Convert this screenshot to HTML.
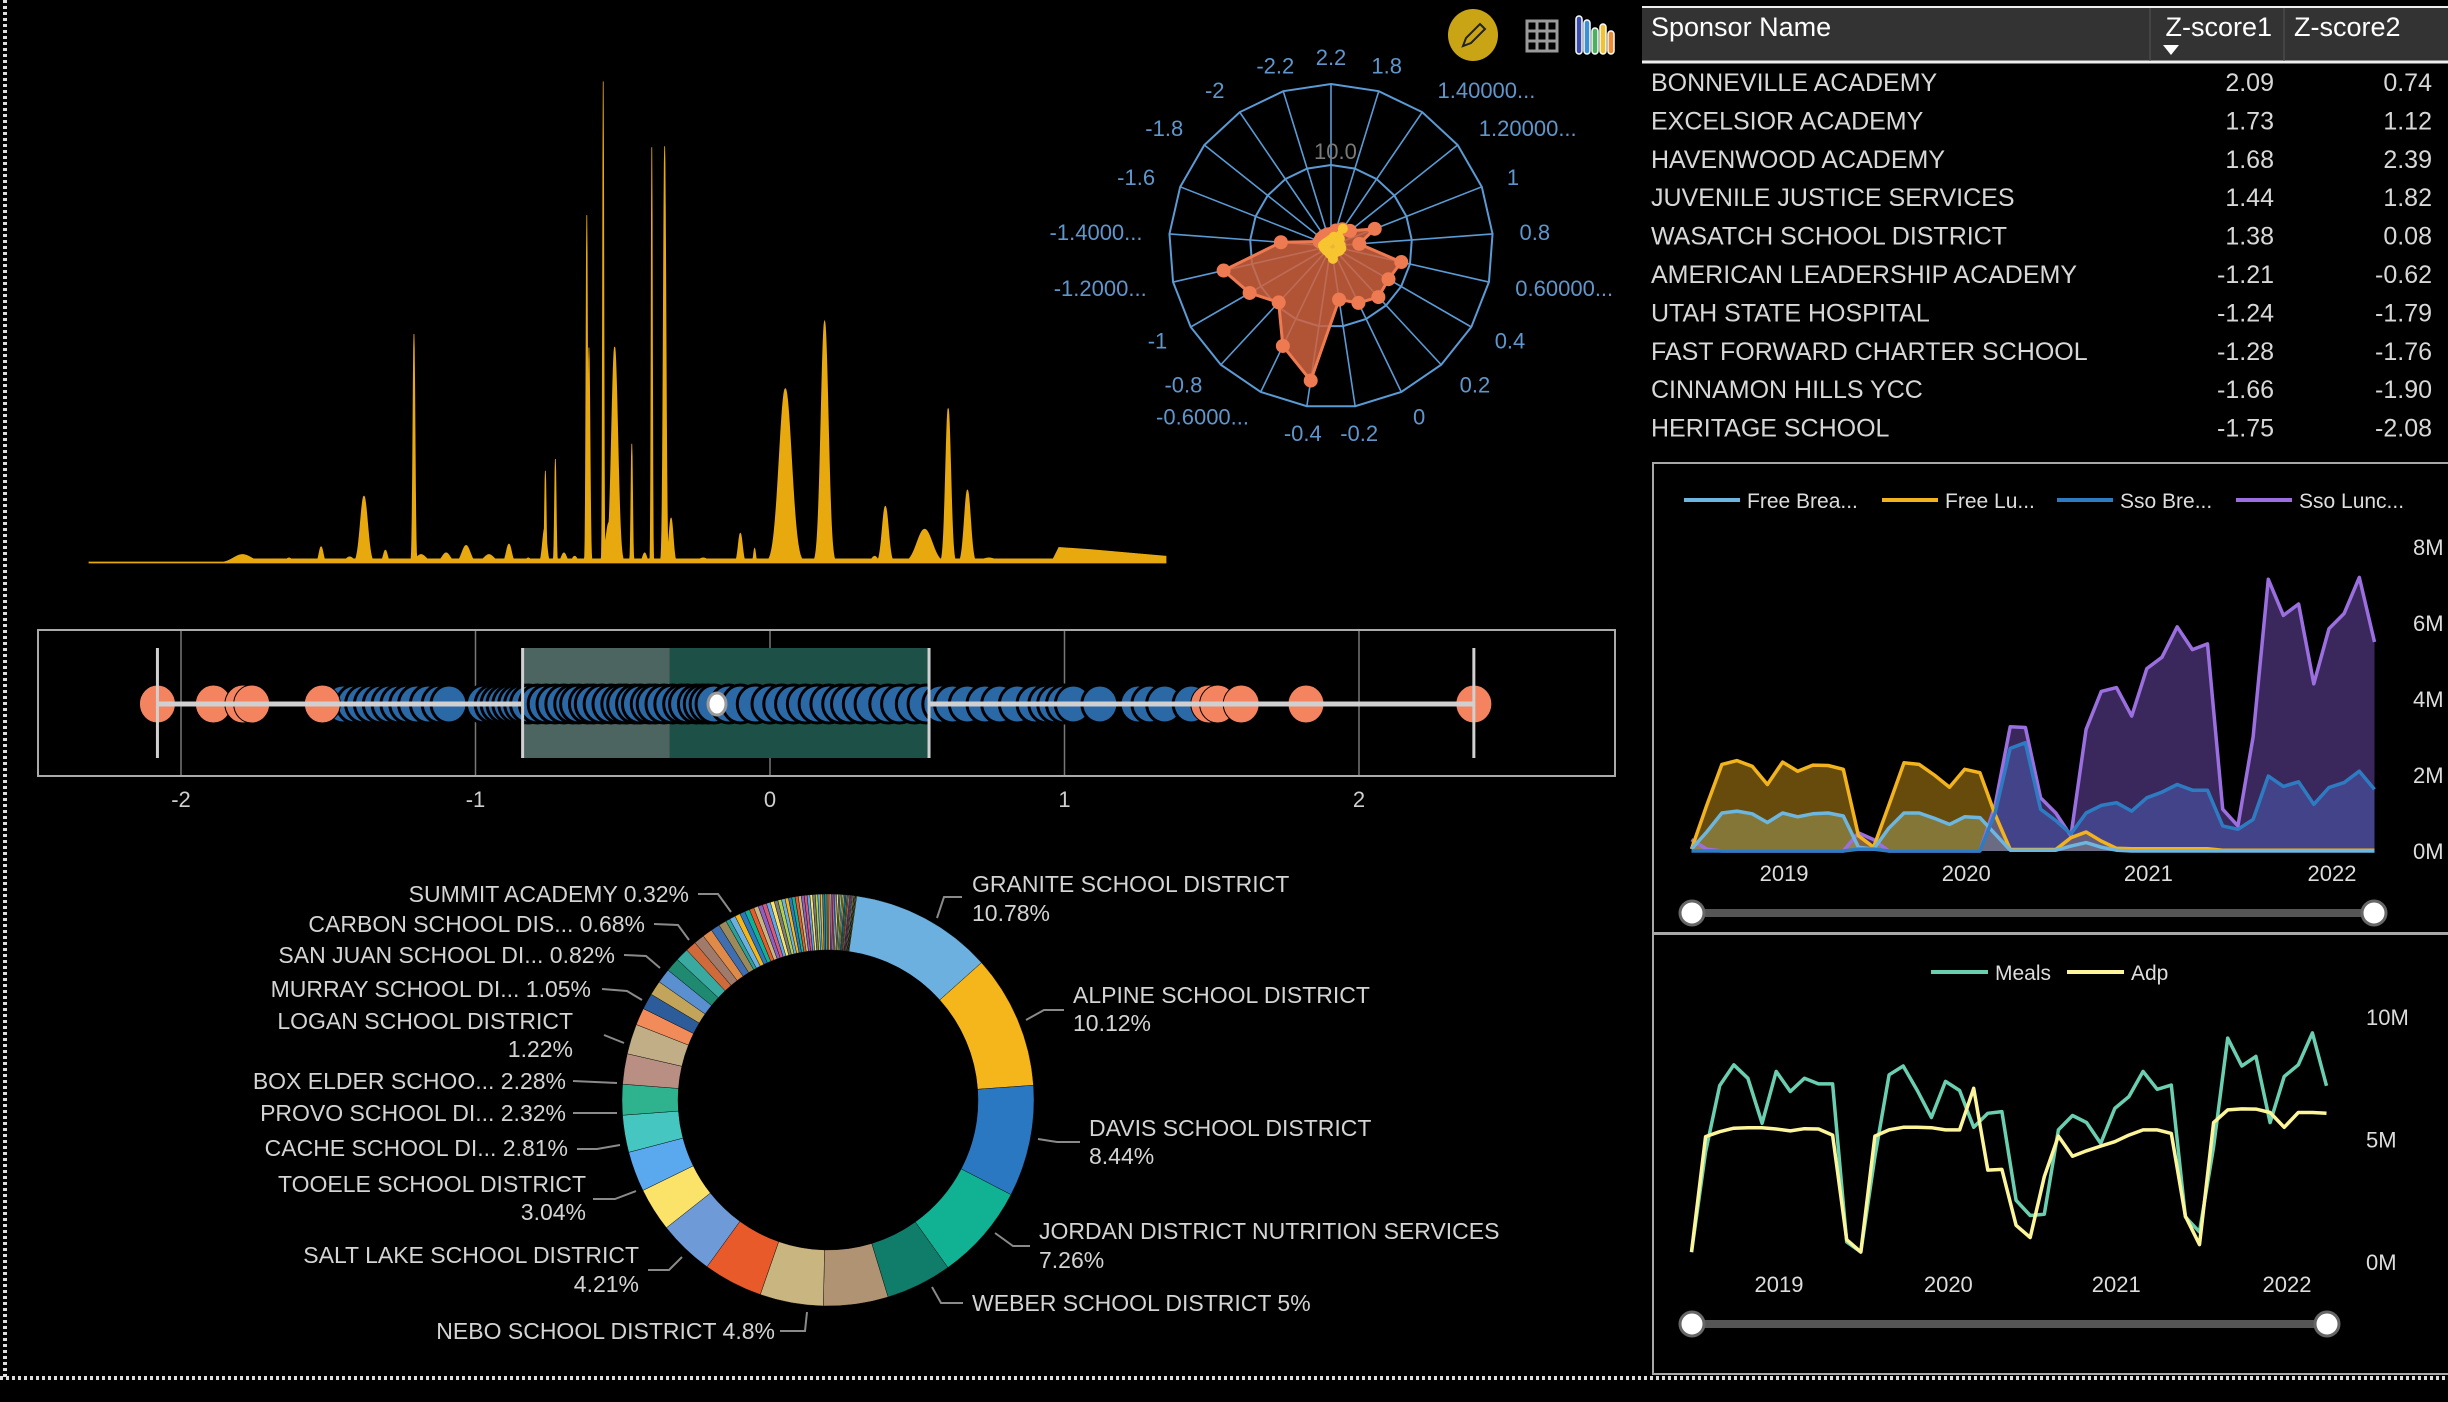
<!DOCTYPE html>
<html><head><meta charset="utf-8">
<style>
body{margin:0;background:#000;width:2448px;height:1397px;overflow:hidden;font-family:"Liberation Sans",sans-serif}
svg text{font-family:"Liberation Sans",sans-serif}
</style></head>
<body>
<svg id="root" width="2448" height="1397" viewBox="0 0 2448 1397" xmlns="http://www.w3.org/2000/svg">
<rect x="0" y="0" width="2448" height="1397" fill="#000"/>
<line x1="5" y1="0" x2="5" y2="1377" stroke="#ddd" stroke-width="4" stroke-dasharray="3 3"/>
<line x1="0" y1="1378" x2="2448" y2="1378" stroke="#ddd" stroke-width="4" stroke-dasharray="3 3"/>

<g id="areaChart"></g>
<g id="radar"></g>

<g>
<ellipse cx="1473" cy="35" rx="25" ry="26" fill="#c9a516"/>
<path d="M1463 46 L1466 38 L1480 24 L1485 29 L1471 43 Z" fill="none" stroke="#222" stroke-width="2"/>
</g>
<g stroke="#9a9a9a" stroke-width="3" fill="none">
<rect x="1527" y="21" width="30" height="30"/>
<line x1="1537" y1="21" x2="1537" y2="51"/><line x1="1547" y1="21" x2="1547" y2="51"/>
<line x1="1527" y1="31" x2="1557" y2="31"/><line x1="1527" y1="41" x2="1557" y2="41"/>
</g>
<g>
<rect x="1576" y="16" width="6" height="38" rx="3" fill="#3a4cb0" stroke="#fff" stroke-width="1.5"/>
<rect x="1584" y="20" width="6" height="34" rx="3" fill="#3d8fd8" stroke="#fff" stroke-width="1.5"/>
<rect x="1592" y="28" width="6" height="26" rx="3" fill="#4bb060" stroke="#fff" stroke-width="1.5"/>
<rect x="1600" y="24" width="6" height="30" rx="3" fill="#f2c230" stroke="#fff" stroke-width="1.5"/>
<rect x="1608" y="31" width="6" height="23" rx="3" fill="#f08a30" stroke="#fff" stroke-width="1.5"/>
</g>

<g id="table">
<rect x="1642" y="7" width="806" height="56" fill="#333"/>
<line x1="1642" y1="7" x2="2448" y2="7" stroke="#eee" stroke-width="2"/>
<line x1="1642" y1="62" x2="2448" y2="62" stroke="#eee" stroke-width="3"/>
<line x1="2150" y1="8" x2="2150" y2="61" stroke="#555" stroke-width="1"/>
<line x1="2284" y1="8" x2="2284" y2="61" stroke="#555" stroke-width="1"/>
<text x="1651" y="36" font-size="27" fill="#fff">Sponsor Name</text>
<text x="2272" y="36" font-size="27" fill="#fff" text-anchor="end">Z-score1</text>
<path d="M2163 45 L2179 45 L2171 55 Z" fill="#fff"/>
<text x="2294" y="36" font-size="27" fill="#fff">Z-score2</text>
</g>

<g id="boxplot"></g>

<g id="donut"></g>
<g font-size="23" fill="#d4d4d4">
<text x="972" y="892">GRANITE SCHOOL DISTRICT</text>
<text x="972" y="921">10.78%</text>
<text x="1073" y="1003">ALPINE SCHOOL DISTRICT</text>
<text x="1073" y="1031">10.12%</text>
<text x="1089" y="1136">DAVIS SCHOOL DISTRICT</text>
<text x="1089" y="1164">8.44%</text>
<text x="1039" y="1239">JORDAN DISTRICT NUTRITION SERVICES</text>
<text x="1039" y="1268">7.26%</text>
<text x="972" y="1311">WEBER SCHOOL DISTRICT 5%</text>
<text x="775" y="1339" text-anchor="end">NEBO SCHOOL DISTRICT 4.8%</text>
<text x="639" y="1263" text-anchor="end">SALT LAKE SCHOOL DISTRICT</text>
<text x="639" y="1292" text-anchor="end">4.21%</text>
<text x="586" y="1192" text-anchor="end">TOOELE SCHOOL DISTRICT</text>
<text x="586" y="1220" text-anchor="end">3.04%</text>
<text x="568" y="1156" text-anchor="end">CACHE SCHOOL DI... 2.81%</text>
<text x="566" y="1121" text-anchor="end">PROVO SCHOOL DI... 2.32%</text>
<text x="566" y="1089" text-anchor="end">BOX ELDER SCHOO... 2.28%</text>
<text x="573" y="1029" text-anchor="end">LOGAN SCHOOL DISTRICT</text>
<text x="573" y="1057" text-anchor="end">1.22%</text>
<text x="591" y="997" text-anchor="end">MURRAY SCHOOL DI... 1.05%</text>
<text x="615" y="963" text-anchor="end">SAN JUAN SCHOOL DI... 0.82%</text>
<text x="645" y="932" text-anchor="end">CARBON SCHOOL DIS... 0.68%</text>
<text x="689" y="902" text-anchor="end">SUMMIT ACADEMY 0.32%</text>
</g>
<g fill="none" stroke="#8a8a8a" stroke-width="2">
<polyline points="962,897 944,897 937,918"/>
<polyline points="1064,1010 1044,1010 1026,1020"/>
<polyline points="1080,1142 1057,1142 1038,1139"/>
<polyline points="1030,1246 1013,1246 995,1233"/>
<polyline points="963,1303 941,1303 932,1287"/>
<polyline points="780,1331 805,1331 807,1312"/>
<polyline points="648,1270 669,1270 682,1257"/>
<polyline points="593,1199 615,1199 636,1191"/>
<polyline points="577,1149 597,1149 620,1145"/>
<polyline points="573,1113 617,1113"/>
<polyline points="573,1081 617,1083"/>
<polyline points="604,1035 624,1043"/>
<polyline points="602,989 627,991 642,1000"/>
<polyline points="624,955 646,956 660,968"/>
<polyline points="654,924 678,925 689,940"/>
<polyline points="698,894 718,894 731,912"/>
</g>

<rect x="1653" y="463" width="800" height="470" fill="none" stroke="#a8a8a8" stroke-width="2"/>
<g id="areaRight"></g>
<rect x="1653" y="934" width="800" height="440" fill="none" stroke="#a8a8a8" stroke-width="2"/>
<g id="lineRight"></g>
</svg>

<script>
const NS='http://www.w3.org/2000/svg';
function mk(tag,attrs,parent){const e=document.createElementNS(NS,tag);for(const k in attrs)e.setAttribute(k,attrs[k]);parent.appendChild(e);return e;}

const sponsorNames=['BONNEVILLE ACADEMY','EXCELSIOR ACADEMY','HAVENWOOD ACADEMY','JUVENILE JUSTICE SERVICES','WASATCH SCHOOL DISTRICT','AMERICAN LEADERSHIP ACADEMY','UTAH STATE HOSPITAL','FAST FORWARD CHARTER SCHOOL','CINNAMON HILLS YCC','HERITAGE SCHOOL'];
const zscore1=['2.09','1.73','1.68','1.44','1.38','-1.21','-1.24','-1.28','-1.66','-1.75'];
const zscore2=['0.74','1.12','2.39','1.82','0.08','-0.62','-1.79','-1.76','-1.90','-2.08'];

const spikePos=[215,280,325,365,385,415,455,465,500,528,560,588,615,638,639,653,665,680,697,700,720,728,736,760,778,788,806,815,860,912,932,975,1030,1100,1115,1170,1203,1230,1260];
const spikeHeight=[25,15,48,18,198,38,678,25,30,52,25,56,15,103,273,308,30,20,1030,638,1426,120,640,353,30,1231,1234,133,15,88,43,516,716,20,168,100,458,216,15];
const spikeWidth=[18,6,4,8,7,4,2,10,8,8,10,5,5,4,1.5,1.5,5,5,1.5,2,1.2,6,6,1.5,4,1.2,2.5,4,10,4,2,12,7,6,6,15,5,6,15];
const basePos=[0,200,205,1350,1358,1400,1508];
const baseHeight=[3,3,12,12,46,40,20];

const radarLabels=['2.2','1.8','1.40000...','1.20000...','1','0.8','0.60000...','0.4','0.2','0','-0.2','-0.4','-0.6000...','-0.8','-1','-1.2000...','-1.4000...','-1.6','-1.8','-2','-2.2'];
const radarOrange=[1.5,2,2.5,3,5.8,3.5,8.9,8.2,8.6,7.8,6.7,16.8,13.7,9.5,11.6,13.6,6.2,1.5,1.5,1.5,1.5];
const radarYellow=[0.8,1.2,2.6,1.4,1.0,1.2,1.3,1.2,1.0,1.0,1.6,1.0,0.8,0.8,0.8,0.9,1.0,0.8,0.7,0.6,0.7];
const radarRings=[10,20];

const boxTicks=[-2,-1,0,1,2];
const boxStats=[-2.08,-0.84,-0.34,0.54,2.39,-0.18];
const outlierValues=[-2.08,-1.89,-1.79,-1.76,-1.52,1.49,1.52,1.60,1.82,2.39];
const pointValues=[-1.45,-1.41,-1.38,-1.35,-1.32,-1.29,-1.26,-1.23,-1.20,-1.16,-1.12,-1.09,-0.97,-0.94,-0.92,-0.90,-0.88,-0.86,-0.84,-0.82,-0.79,-0.76,-0.73,-0.70,-0.67,-0.65,-0.62,-0.60,-0.57,-0.54,-0.51,-0.49,-0.46,-0.44,-0.41,-0.39,-0.36,-0.33,-0.30,-0.28,-0.25,-0.23,-0.21,-0.19,-0.14,-0.10,-0.05,0.0,0.04,0.08,0.12,0.16,0.20,0.24,0.27,0.31,0.35,0.40,0.44,0.49,0.53,0.58,0.62,0.67,0.73,0.78,0.84,0.90,0.94,0.97,1.00,1.03,1.12,1.25,1.29,1.34,1.43];

const donutNames=['Granite','Alpine','Davis','Jordan','Weber','Sponsor A','Nebo','Sponsor B','Salt Lake','Sponsor C','Tooele','Cache','Provo','Sponsor D','Box Elder','Sponsor E','Logan','Sponsor F','Sponsor G','Murray','Sponsor H','San Juan','Sponsor I','Sponsor J','Carbon','Sponsor K','Summit'];
const donutValues=[10.78,10.12,8.44,7.26,5,4.9,4.8,4.5,4.21,3.3,3.04,2.81,2.32,2.3,2.28,1.3,1.22,1.1,1.1,1.05,1.0,0.82,0.8,0.75,0.68,0.6,0.32];
const donutColors=['#6cb0e0','#f5b61b','#2b78c2','#11b193','#107d6b','#b09373','#c8b57f','#e85a2a','#6f9ad8','#fbe36a','#5aa9ee','#45c6c0','#2fb38f','#b98f84','#c1ae86','#f28b5a','#2c5d9a','#c2a55a','#5a8fd0','#1f8a70','#3aa99f','#d06a3a','#a07a6a','#e08a4a','#3f6fb0','#9c8a5a','#2aa198'];
const tinyValues=[0.45,0.4,0.4,0.38,0.35,0.35,0.33,0.32,0.3,0.3,0.28,0.28,0.27,0.26,0.25,0.25,0.24,0.23,0.22,0.22,0.21,0.2,0.2,0.19,0.18,0.18,0.17,0.16,0.16,0.15,0.15,0.14,0.14,0.13,0.12,0.12,0.11,0.1,0.1,0.1,0.09,0.09,0.08,0.08,0.07,0.07,0.06,0.06,0.05,0.05];
const tinyPalette=['#6cb0e0','#f5b61b','#2b78c2','#11b193','#e85a2a','#c8b57f','#8a5fc0','#d45a7a','#5aa9ee','#fbe36a','#7a7a7a','#b0d050'];

const mealYears=['2019','2020','2021','2022'];
const mealYearIdx=[6.1,18.1,30.1,42.2];
const mealTicks=[0,2,4,6,8];
const freeBreakfast=[0.05,0.5,1.0,1.05,0.98,0.75,1.0,0.9,0.98,1.0,0.92,0.1,0.05,0.6,1.0,1.0,0.86,0.7,0.9,0.88,0.45,0.02,0.02,0.02,0.02,0.13,0.22,0.1,0.02,0,0,0,0,0,0,0,0,0,0,0,0,0,0,0,0,0];
const freeLunch=[0.05,1.2,2.28,2.38,2.23,1.75,2.34,2.1,2.26,2.25,2.15,0.4,0.1,1.2,2.32,2.28,2.0,1.68,2.15,2.06,0.96,0.04,0.04,0.04,0.04,0.35,0.5,0.26,0.07,0.06,0.06,0.06,0.06,0.06,0.06,0.02,0.02,0.02,0.02,0.02,0.02,0.02,0.02,0.02,0.02,0.02];
const ssoBreakfast=[0,0,0,0,0,0,0,0,0,0,0,0.05,0.05,0,0,0,0,0,0,0,1.0,2.7,2.85,1.1,0.8,0.45,1.0,1.2,1.27,1.05,1.4,1.55,1.75,1.6,1.6,0.66,0.57,0.83,1.97,1.7,1.82,1.23,1.67,1.8,2.1,1.62];
const ssoLunch=[0.3,0.05,0,0,0,0,0,0,0,0,0,0.48,0.3,0,0,0,0,0,0,0,1.2,3.27,3.25,1.4,1.0,0.4,3.2,4.2,4.3,3.55,4.8,5.1,5.9,5.3,5.45,1.1,0.66,3.0,7.15,6.2,6.5,4.4,5.85,6.25,7.2,5.5];

const lineYears=['2019','2020','2021','2022'];
const lineYearIdx=[6.2,18.2,30.1,42.2];
const lineTicks=[0,5,10];
const mealsSeries=[0.4,4.5,7.2,8.05,7.5,5.66,7.78,6.96,7.5,7.27,7.27,0.82,0.41,4.3,7.64,8.0,7.0,5.9,7.37,7.0,5.5,6.07,6.14,2.52,1.9,1.95,5.39,5.98,5.69,4.84,6.27,6.75,7.78,7.05,7.22,1.84,1.23,4.7,9.14,8.0,8.39,5.69,7.57,8.05,9.35,7.19];
const adpSeries=[0.41,5.12,5.32,5.46,5.48,5.48,5.43,5.35,5.44,5.43,5.18,0.91,0.41,5.14,5.39,5.5,5.5,5.48,5.39,5.39,7.09,3.75,3.78,1.5,1.0,3.48,5.14,4.32,4.54,4.73,4.91,5.18,5.39,5.39,5.25,1.87,0.71,5.69,6.21,6.25,6.24,6.1,5.5,6.1,6.1,6.07];

(function(){
  const g=document.getElementById('table');
  sponsorNames.forEach((n,i)=>{
    const y=91+i*38.4;
    const t=mk('text',{x:1651,y:y,'font-size':25,fill:'#d8d8d8'},g);t.textContent=n;
    
    
    const a=mk('text',{x:2274,y:y,'font-size':25,fill:'#d8d8d8','text-anchor':'end'},g);a.textContent=zscore1[i];
    
    
    const b=mk('text',{x:2432,y:y,'font-size':25,fill:'#d8d8d8','text-anchor':'end'},g);b.textContent=zscore2[i];
    
    
  });
})();

(function(){
  const g=document.getElementById('areaChart');
  const ax=p=>89+p*(1077/1508), ay=v=>563-v*(483/1430);
  function baseAt(p){for(let i=0;i<basePos.length-1;i++){if(p>=basePos[i]&&p<=basePos[i+1]){const t=(p-basePos[i])/(basePos[i+1]-basePos[i]);return baseHeight[i]+t*(baseHeight[i+1]-baseHeight[i]);}}return 0;}
  let d='M'+ax(0)+' '+ay(0);
  for(let p=0;p<=1508;p+=0.5){
    let v=baseAt(p);
    for(let k=0;k<spikePos.length;k++){const dd=(p-spikePos[k])/spikeWidth[k];if(Math.abs(dd)<6){v=Math.max(v,spikeHeight[k]*Math.exp(-dd*dd));}}
    d+=' L'+ax(p).toFixed(2)+' '+ay(v).toFixed(2);
  }
  d+=' L'+ax(1508)+' '+ay(0)+' Z';
  const path=mk('path',{d:d,fill:'#e8a90e',stroke:'#e8a90e','stroke-width':0.8},g);
  
  
})();

(function(){
  const g=document.getElementById('radar');
  const cx=1331,cy=246,R=162,N=radarLabels.length,maxV=20;
  const ang=i=>i*2*Math.PI/N;
  const pt=(i,v)=>[cx+Math.sin(ang(i))*v/maxV*R, cy-Math.cos(ang(i))*v/maxV*R];
  radarRings.forEach(rv=>{
    const pts=[];for(let i=0;i<N;i++)pts.push(pt(i,rv).join(','));
    const pg=mk('polygon',{points:pts.join(' '),fill:'none',stroke:'#5b9bd5','stroke-width':2},g);
    
    
  });
  for(let i=0;i<N;i++){
    const p=pt(i,maxV);
    const l=mk('line',{x1:cx,y1:cy,x2:p[0],y2:p[1],stroke:'#5b9bd5','stroke-width':1.6},g);
    
    
    const s=Math.sin(ang(i)),c=Math.cos(ang(i));
    const lr=R+27;
    const tx=cx+s*lr, ty=cy-c*lr+8;
    const anchor=Math.abs(s)<0.3?'middle':(s>0?'start':'end');
    const t=mk('text',{x:tx.toFixed(1),y:ty.toFixed(1),'font-size':22,fill:'#5f96cc','text-anchor':anchor},g);
    t.textContent=radarLabels[i];
    
    
  }
  const rl1=mk('text',{x:cx-17,y:cy-R/2-6,'font-size':22,fill:'#7a7a7a'},g);rl1.textContent='10.0';
  
  
  const rl0=mk('text',{x:cx-14,y:cy+8,'font-size':22,fill:'#7a7a7a'},g);rl0.textContent='0.0';
  
  
  function series(vals,fill,stroke,name,r){
    const pts=vals.map((v,i)=>pt(i,v));
    const pg=mk('polygon',{points:pts.map(p=>p.join(',')).join(' '),fill:fill,'fill-opacity':0.85,stroke:stroke,'stroke-width':3,'stroke-linejoin':'round'},g);
    
    
    pts.forEach(p=>{
      const c=mk('circle',{cx:p[0],cy:p[1],r:r,fill:stroke},g);
      
      
    });
  }
  series(radarOrange,'#d0633f','#ee7a52','radar-orange-series',7);
  series(radarYellow,'#f2c22e','#f7c530','radar-yellow-series',5);
})();

(function(){
  const g=document.getElementById('boxplot');
  const bx=v=>770+v*294.5;
  const fr=mk('rect',{x:38,y:630,width:1577,height:146,fill:'none',stroke:'#aaa','stroke-width':2},g);
  
  
  boxTicks.forEach(t=>{
    const l=mk('line',{x1:bx(t),y1:631,x2:bx(t),y2:775,stroke:'#777','stroke-width':1.5},g);
    
    
    const tx=mk('text',{x:bx(t),y:807,'font-size':22,fill:'#cfcfcf','text-anchor':'middle'},g);tx.textContent=String(t);
    
    
  });
  const [mn,q1,md,q3,mx,mean]=boxStats;
  const b1=mk('rect',{x:bx(q1),y:648,width:bx(md)-bx(q1),height:110,fill:'#4d6561'},g);
  
  
  const b2=mk('rect',{x:bx(md),y:648,width:bx(q3)-bx(md),height:110,fill:'#1d5147'},g);
  
  
  pointValues.forEach(v=>{
    const c=mk('ellipse',{cx:bx(v),cy:704,rx:18,ry:19,fill:'#2a68a6',stroke:'#000','stroke-width':3},g);
    
    
  });
  outlierValues.forEach(v=>{
    const c=mk('ellipse',{cx:bx(v),cy:704,rx:18,ry:19,fill:'#f4845f',stroke:'#000','stroke-width':1},g);
    
    
  });
  const w1=mk('line',{x1:bx(mn),y1:704,x2:bx(q1),y2:704,stroke:'#d0d0d0','stroke-width':5},g);
  
  
  const w2=mk('line',{x1:bx(q3),y1:704,x2:bx(mx),y2:704,stroke:'#d0d0d0','stroke-width':5},g);
  
  
  [mn,mx].forEach(v=>{
    const l=mk('line',{x1:bx(v),y1:648,x2:bx(v),y2:758,stroke:'#d0d0d0','stroke-width':3},g);
    
    
  });
  [q1,q3].forEach(v=>{
    const l=mk('line',{x1:bx(v),y1:648,x2:bx(v),y2:758,stroke:'#d0d0d0','stroke-width':3},g);
    
    
  });
  const m=mk('ellipse',{cx:bx(mean),cy:704,rx:9,ry:11,fill:'#fff',stroke:'#999','stroke-width':3},g);
  
  
})();

(function(){
  const g=document.getElementById('donut');
  const cx=828,cy=1100,ro=206,ri=150;
  const allVals=donutValues.concat(tinyValues);
  const total=allVals.reduce((a,b)=>a+b,0);
  let a0=8*Math.PI/180;
  function arc(a,b,col,name){
    const p=(r,a)=>[cx+r*Math.sin(a),cy-r*Math.cos(a)];
    const large=(b-a)>Math.PI?1:0;
    const o1=p(ro,a),o2=p(ro,b),i2=p(ri,b),i1=p(ri,a);
    const d=`M${o1[0]} ${o1[1]} A${ro} ${ro} 0 ${large} 1 ${o2[0]} ${o2[1]} L${i2[0]} ${i2[1]} A${ri} ${ri} 0 ${large} 0 ${i1[0]} ${i1[1]} Z`;
    const s=mk('path',{d:d,fill:col,stroke:'#000','stroke-width':0.4},g);
    
    
  }
  donutValues.forEach((v,i)=>{const a1=a0+v/total*2*Math.PI;arc(a0,a1,donutColors[i],'slice-'+donutNames[i].toLowerCase().replace(/\s+/g,'-'));a0=a1;});
  tinyValues.forEach((v,i)=>{const a1=a0+v/total*2*Math.PI;arc(a0,a1,tinyPalette[i%tinyPalette.length],'slice-small-sponsor');a0=a1;});
})();

(function(){
  const g=document.getElementById('areaRight');
  const x=i=>1691.5+i*(683/45), y=v=>851-v*38;
  const leg=[['Free Brea...','#6cb6e0',1684],['Free Lu...','#f2b31c',1882],['Sso Bre...','#2d7cc2',2057],['Sso Lunc...','#9b6fe0',2236]];
  leg.forEach(l=>{
    const ln=mk('line',{x1:l[2],y1:500,x2:l[2]+56,y2:500,stroke:l[1],'stroke-width':4},g);
    
    
    const t=mk('text',{x:l[2]+63,y:508,'font-size':21,fill:'#ddd'},g);t.textContent=l[0];
    
    
  });
  mealTicks.forEach(v=>{
    const t=mk('text',{x:2413,y:y(v)+8,'font-size':22,fill:'#ddd'},g);t.textContent=v+'M';
    
    
  });
  mealYears.forEach((yr,i)=>{
    const t=mk('text',{x:x(mealYearIdx[i]),y:881,'font-size':22,fill:'#ddd','text-anchor':'middle'},g);t.textContent=yr;
    
    
  });
  const series=[[freeBreakfast,'#6cb6e0','#9c9a5a','free-breakfast'],[freeLunch,'#f2b31c','#f2b31c','free-lunch'],[ssoBreakfast,'#2d7cc2','#4a5ab0','sso-breakfast'],[ssoLunch,'#9b6fe0','#6a48a8','sso-lunch']];
  const order=[3,1,0,2];
  order.forEach(k=>{
    const [vals,col,fill,name]=series[k];
    let d='M'+x(0)+' '+y(0);vals.forEach((v,i)=>d+=' L'+x(i).toFixed(1)+' '+y(v).toFixed(1));d+=' L'+x(vals.length-1)+' '+y(0)+' Z';
    const a=mk('path',{d:d,fill:fill,'fill-opacity':k==1?0.42:0.55,stroke:'none'},g);
    
    
  });
  order.forEach(k=>{
    const [vals,col,fill,name]=series[k];
    const l=mk('polyline',{points:vals.map((v,i)=>x(i).toFixed(1)+','+y(v).toFixed(1)).join(' '),fill:'none',stroke:col,'stroke-width':3.5,'stroke-linejoin':'round'},g);
    
    
  });
  const tr=mk('line',{x1:1692,y1:913,x2:2374,y2:913,stroke:'#555','stroke-width':8},g);
  
  
  [1692,2374].forEach(hx=>{
    const h=mk('circle',{cx:hx,cy:913,r:12,fill:'#fff',stroke:'#666','stroke-width':3},g);
    
    
  });
})();

(function(){
  const g=document.getElementById('lineRight');
  const x=i=>1691.5+i*(635/45), y=v=>1262-v*24.5;
  [['Meals','#6acfb0',1931],['Adp','#fdf59a',2067]].forEach(l=>{
    const ln=mk('line',{x1:l[2],y1:972,x2:l[2]+57,y2:972,stroke:l[1],'stroke-width':4},g);
    
    
    const t=mk('text',{x:l[2]+64,y:980,'font-size':21,fill:'#ddd'},g);t.textContent=l[0];
    
    
  });
  lineTicks.forEach(v=>{
    const t=mk('text',{x:2366,y:y(v)+8,'font-size':22,fill:'#ddd'},g);t.textContent=v+'M';
    
    
  });
  lineYears.forEach((yr,i)=>{
    const t=mk('text',{x:x(lineYearIdx[i]),y:1292,'font-size':22,fill:'#ddd','text-anchor':'middle'},g);t.textContent=yr;
    
    
  });
  [[mealsSeries,'#6acfb0','meals-line'],[adpSeries,'#fdf59a','adp-line']].forEach(s=>{
    const l=mk('polyline',{points:s[0].map((v,i)=>x(i).toFixed(1)+','+y(v).toFixed(1)).join(' '),fill:'none',stroke:s[1],'stroke-width':3.5,'stroke-linejoin':'round'},g);
    
    
  });
  const tr=mk('line',{x1:1692,y1:1324,x2:2327,y2:1324,stroke:'#555','stroke-width':8},g);
  
  
  [1692,2327].forEach(hx=>{
    const h=mk('circle',{cx:hx,cy:1324,r:12,fill:'#fff',stroke:'#666','stroke-width':3},g);
    
    
  });
})();
</script>
</body></html>
